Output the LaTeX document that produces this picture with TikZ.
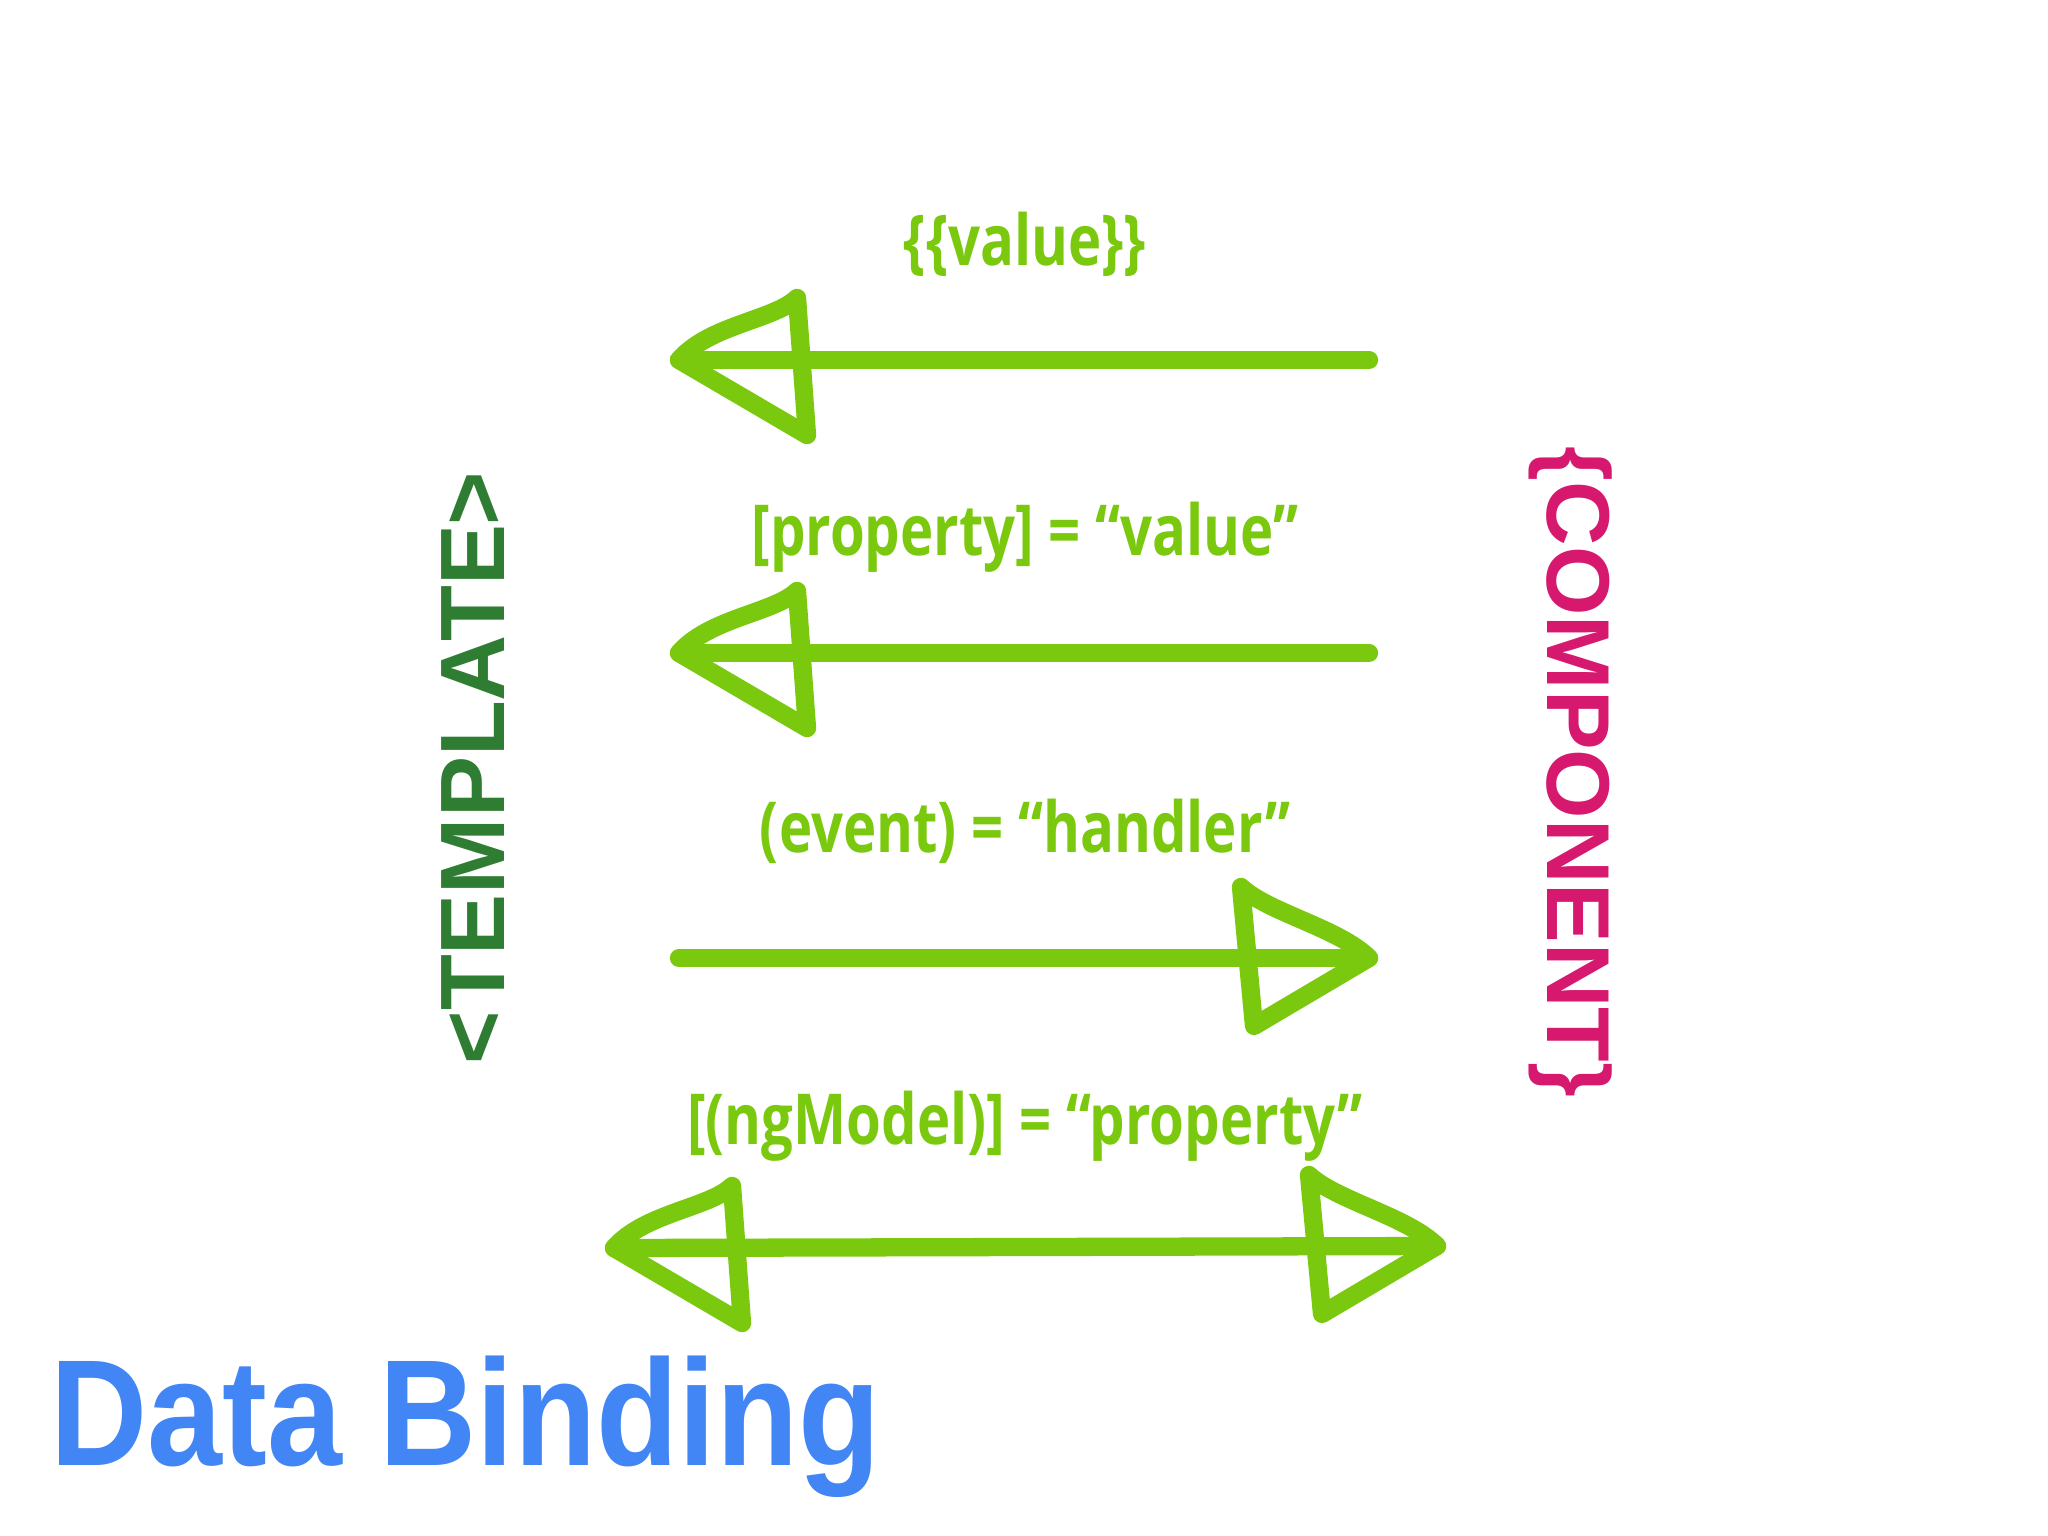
\documentclass[tikz,border=0pt]{standalone}
\usepackage{fontspec}
\setmainfont{Liberation Sans}
\newfontfamily\bindfont[FakeStretch=0.8]{Open Sans}
\newfontfamily\titlefont[FakeStretch=0.89]{Liberation Sans}

\definecolor{bindGreen}{RGB}{122,201,14}
\definecolor{tmplGreen}{RGB}{46,125,50}
\definecolor{compPink}{RGB}{214,24,110}
\definecolor{titleBlue}{RGB}{66,133,244}

\tikzset{
  flow/.style={draw=bindGreen, line width=5.2pt, line cap=round, line join=round},
  bindlabel/.style={text=bindGreen, inner sep=0pt, font=\bindfont\bfseries\fontsize{20}{24}\selectfont},
  sidelabel/.style={inner sep=0pt, font=\bfseries\fontsize{26}{30}\selectfont},
  lhead/.pic={\draw[flow] (0,0) .. controls (30,-35) and (95,-40) .. (118,-62) -- (128,75) -- cycle;},
  rhead/.pic={\draw[flow] (0,0) .. controls (-30,-30) and (-100,-45) .. (-128,-71) -- (-115,68) -- cycle;}
}

\begin{document}
\begin{tikzpicture}[x=0.01cm, y=-0.01cm]
  \useasboundingbox (0,0) rectangle (2048,1536);
  % the two sides
  \node[sidelabel, text=tmplGreen, rotate=90] (template) at (473,768) {<TEMPLATE>};
  \node[sidelabel, text=compPink, rotate=-90, font=\bfseries\fontsize{25.4}{30}\selectfont] (component) at (1571,772) {\{COMPONENT\}};
  % binding labels
  \node[bindlabel] (interp) at (1025,244) {\{\{value\}\}};
  \node[bindlabel] (prop) at (1025,537) {[property] = “value”};
  \node[bindlabel] (event) at (1025,831) {(event) = “handler”};
  \node[bindlabel] (twoway) at (1025,1126) {[(ngModel)] = “property”};
  % arrow ends
  \coordinate (interp-r) at (1369,360);
  \coordinate (interp-l) at (679,360);
  \coordinate (prop-r) at (1369,653);
  \coordinate (prop-l) at (679,653);
  \coordinate (event-l) at (679,958);
  \coordinate (event-r) at (1369,958);
  \coordinate (twoway-l) at (614,1248);
  \coordinate (twoway-r) at (1437,1246);
  % component to template
  \foreach \row in {interp, prop} {
    \draw[flow] (\row-r) -- (\row-l);
    \pic at (\row-l) {lhead};
  }
  % template to component
  \draw[flow] (event-l) -- (event-r);
  \pic at (event-r) {rhead};
  % both ways
  \draw[flow] (twoway-l) -- (twoway-r);
  \pic at (twoway-l) {lhead};
  \pic at (twoway-r) {rhead};
  % title
  \node[anchor=base west, inner sep=0pt, text=titleBlue, font=\titlefont\bfseries\fontsize{43}{48}\selectfont] (title) at (50,1465) {Data Binding};
\end{tikzpicture}
\end{document}
